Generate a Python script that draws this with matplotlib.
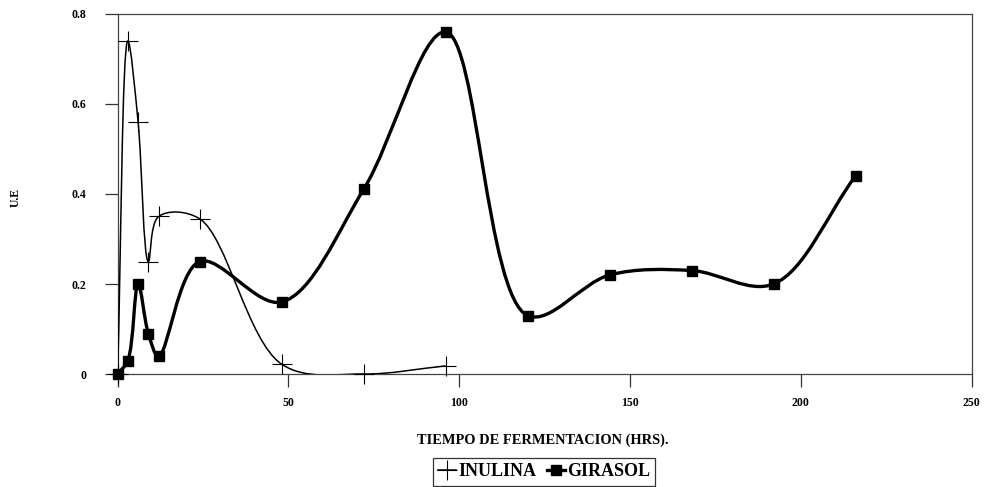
import numpy as np
import matplotlib.pyplot as plt
from matplotlib.path import Path
from matplotlib.patches import PathPatch
from matplotlib.lines import Line2D

plt.rcParams["font.family"] = ["Liberation Serif", "DejaVu Serif"]
plt.rcParams["font.weight"] = "bold"

# Fermentation time (h) and enzyme units for each substrate
horas_inulina = [0, 3, 6, 9, 12, 24, 48, 72, 96]
ue_inulina = [0.0, 0.74, 0.56, 0.25, 0.35, 0.345, 0.022, 0.0, 0.018]

horas_girasol = [0, 3, 6, 9, 12, 24, 48, 72, 96, 120, 144, 168, 192, 216]
ue_girasol = [0.0, 0.03, 0.20, 0.09, 0.04, 0.25, 0.16, 0.41, 0.76,
              0.13, 0.22, 0.23, 0.20, 0.44]

x_ticks = [0, 50, 100, 150, 200, 250]
y_ticks = [0, 0.2, 0.4, 0.6, 0.8]
y_ticklabels = ["0", "0.2", "0.4", "0.6", "0.8"]


def smooth_path(ax, xs, ys, alpha=0.5):
    """Centripetal Catmull-Rom curve through the points, built in screen
    space and handed back to the axes as cubic Bezier segments."""
    pts = ax.transData.transform(np.column_stack([xs, ys]).astype(float))
    n = len(pts)
    ext = np.vstack([2 * pts[0] - pts[1], pts, 2 * pts[-1] - pts[-2]])
    verts = [pts[0]]
    codes = [Path.MOVETO]
    for i in range(1, n):
        p0, p1, p2, p3 = ext[i - 1], ext[i], ext[i + 1], ext[i + 2]
        d0 = max(np.linalg.norm(p1 - p0) ** alpha, 1e-6)
        d1 = max(np.linalg.norm(p2 - p1) ** alpha, 1e-6)
        d2 = max(np.linalg.norm(p3 - p2) ** alpha, 1e-6)
        m1 = (p1 - p0) / d0 - (p2 - p0) / (d0 + d1) + (p2 - p1) / d1
        m2 = (p2 - p1) / d1 - (p3 - p1) / (d1 + d2) + (p3 - p2) / d2
        verts += [p1 + m1 * d1 / 3.0, p2 - m2 * d1 / 3.0, p2]
        codes += [Path.CURVE4] * 3
    verts = ax.transData.inverted().transform(np.array(verts))
    return Path(verts, codes)


fig = plt.figure(figsize=(9.84, 4.87), dpi=100)
ax = fig.add_axes([0.1195, 0.232, 0.868, 0.7393])
ax.set_xlim(0, 250)
ax.set_ylim(0, 0.8)

ax.add_patch(PathPatch(smooth_path(ax, horas_inulina, ue_inulina), fill=False,
                       edgecolor="black", linewidth=1.1, zorder=3))
ax.plot(horas_inulina, ue_inulina, linestyle="none", marker="+",
        markersize=14, markeredgewidth=0.8, color="black", zorder=4,
        clip_on=False)

ax.add_patch(PathPatch(smooth_path(ax, horas_girasol, ue_girasol), fill=False,
                       edgecolor="black", linewidth=2.4, zorder=5))
ax.plot(horas_girasol, ue_girasol, linestyle="none", marker="s",
        markersize=7.5, color="black", zorder=6, clip_on=False)

ax.set_xticks(x_ticks)
ax.set_yticks(y_ticks)
ax.set_yticklabels(y_ticklabels)
ax.tick_params(axis="both", direction="out", length=9.5, width=0.9,
               colors="#333333", labelcolor="black", labelsize=8.5)
ax.tick_params(axis="y", pad=13)
ax.tick_params(axis="x", pad=7)
for side in ax.spines.values():
    side.set_linewidth(0.9)
    side.set_color("#444444")

fig.text(0.016, 0.595, "U.E", rotation=90, ha="center", va="center",
         fontsize=8.5, fontweight="bold")
fig.text(0.552, 0.0965, "TIEMPO DE FERMENTACION (HRS).", ha="center",
         va="center", fontsize=10.4, fontweight="bold")

handles = [
    Line2D([], [], color="black", linewidth=1.1, marker="+", markersize=15,
           markeredgewidth=0.8),
    Line2D([], [], color="black", linewidth=2.4, marker="s", markersize=7.5),
]
leg = fig.legend(handles, ["INULINA", "GIRASOL"], loc="center",
                 bbox_to_anchor=(0.553, 0.031), ncol=2, frameon=True,
                 fancybox=False, edgecolor="black", handlelength=1.0,
                 handletextpad=0.1, columnspacing=0.6, borderpad=0.3,
                 prop={"size": 13, "weight": "bold"})
leg.get_frame().set_linewidth(0.9)

fig.savefig("out.png", dpi=100)
